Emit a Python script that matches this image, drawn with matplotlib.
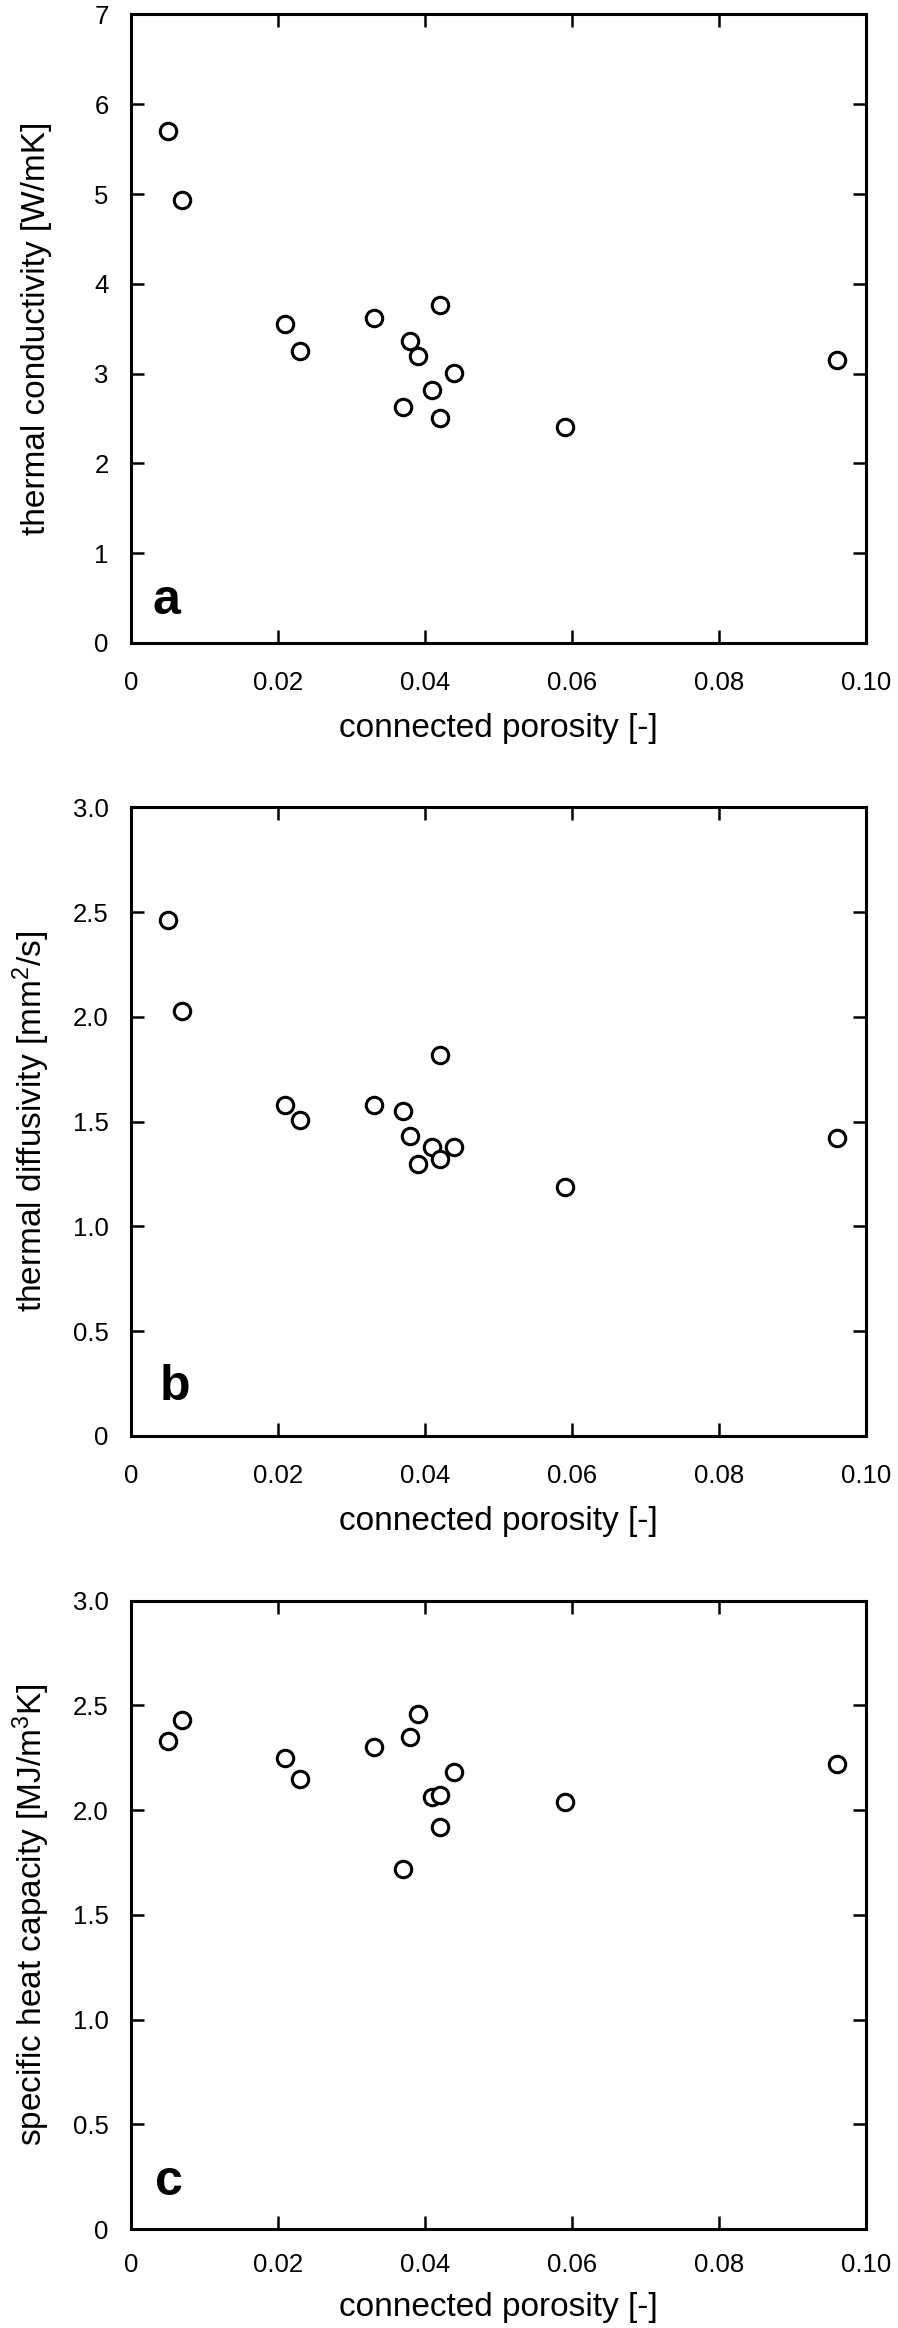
import numpy as np
import matplotlib
matplotlib.use("Agg")
from matplotlib import pyplot as plt

plt.rcParams['font.family'] = ['Liberation Sans', 'DejaVu Sans']
plt.rcParams['mathtext.fontset'] = 'custom'
plt.rcParams['mathtext.rm'] = 'Liberation Sans'
plt.rcParams['mathtext.default'] = 'regular'

# connected porosity of the samples
porosity = [0.005, 0.007, 0.021, 0.023, 0.033, 0.037, 0.038, 0.039, 0.041, 0.042, 0.042, 0.044, 0.059, 0.096]
conductivity = [5.70, 4.93, 3.55, 3.25, 3.62, 2.63, 3.36, 3.20, 2.82, 3.76, 2.51, 3.01, 2.41, 3.15]
diffusivity = [2.46, 2.03, 1.58, 1.51, 1.58, 1.55, 1.43, 1.30, 1.38, 1.82, 1.32, 1.38, 1.19, 1.42]
heat_capacity = [2.33, 2.43, 2.25, 2.15, 2.30, 1.72, 2.35, 2.46, 2.06, 2.07, 1.92, 2.18, 2.04, 2.22]

x_ticks = [0, 0.02, 0.04, 0.06, 0.08, 0.10]
x_ticklabels = ['0', '0.02', '0.04', '0.06', '0.08', '0.10']
ya_ticks = [0, 1, 2, 3, 4, 5, 6, 7]
ya_ticklabels = ['0', '1', '2', '3', '4', '5', '6', '7']
ybc_ticks = [0, 0.5, 1.0, 1.5, 2.0, 2.5, 3.0]
ybc_ticklabels = ['0', '0.5', '1.0', '1.5', '2.0', '2.5', '3.0']

panels = [
    (conductivity, 'thermal conductivity [W/mK]', ya_ticks, ya_ticklabels, 7, 'a'),
    (diffusivity, 'thermal diffusivity [mm$^2$/s]', ybc_ticks, ybc_ticklabels, 3, 'b'),
    (heat_capacity, 'specific heat capacity [MJ/m$^3$K]', ybc_ticks, ybc_ticklabels, 3, 'c'),
]

fig = plt.figure(figsize=(8.98, 23.28), dpi=100)
bottoms = [0.7238, 0.3832, 0.0425]
letter_xy = [(0.029, 0.046), (0.039, 0.057), (0.033, 0.054)]
xlabel_y = [-0.150, -0.150, -0.139]
xtick_pad = [20, 20, 17]

for i, (vals, ylab, yt, ytl, ymax, letter) in enumerate(panels):
    ax = fig.add_axes([0.1459, bottoms[i], 0.8185, 0.2700])
    ax.scatter(porosity, vals, s=140, facecolors='white', edgecolors='black',
               linewidths=2.2, zorder=3, clip_on=False)
    ax.set_xlim(0, 0.10)
    ax.set_ylim(0, ymax)
    ax.set_xticks(x_ticks)
    ax.set_xticklabels(x_ticklabels)
    ax.set_yticks(yt)
    ax.set_yticklabels(ytl)
    ax.tick_params(direction='in', length=9.5, width=1.8, top=True, right=True,
                   labelsize=18.5)
    ax.tick_params(axis='x', pad=xtick_pad[i])
    ax.tick_params(axis='y', pad=16)
    for sp in ax.spines.values():
        sp.set_linewidth(2.2)
    ax.set_ylabel(ylab, fontsize=24)
    ax.yaxis.set_label_coords(-0.107, 0.5)
    ax.set_xlabel('connected porosity [-]', fontsize=24)
    ax.xaxis.set_label_coords(0.5, xlabel_y[i])
    ax.xaxis.label.set_va('baseline')
    ax.text(letter_xy[i][0], letter_xy[i][1], letter, transform=ax.transAxes,
            fontsize=36, fontweight='bold', ha='left', va='baseline')

fig.savefig('out.png', dpi=100)
